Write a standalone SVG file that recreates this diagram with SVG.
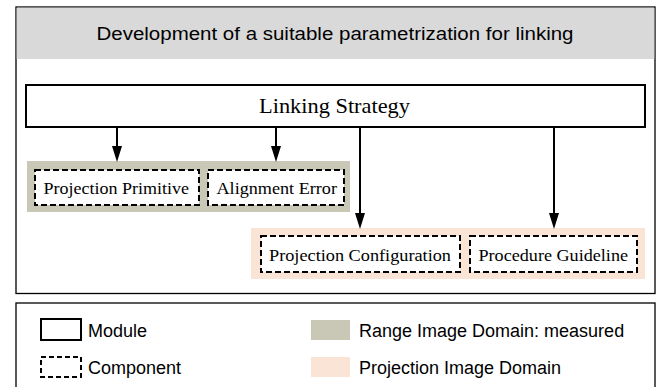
<svg xmlns="http://www.w3.org/2000/svg" width="657" height="387" viewBox="0 0 657 387">
<defs>
<marker id="ah" viewBox="0 0 16 10" refX="1" refY="5" markerUnits="userSpaceOnUse" markerWidth="16" markerHeight="10" orient="auto" overflow="visible">
<path d="M0,0 L16,5 L0,10 Z" fill="#000"/>
</marker>
<style>
.frame{fill:#fff;stroke:#000;stroke-width:1.3}
.module{fill:#fff;stroke:#000;stroke-width:2}
.comp{fill:#fff;stroke:#000;stroke-width:2;stroke-dasharray:6,3}
.range{fill:#c9c7b6}
.proj{fill:#f9e4d5}
.sans{font-family:"Liberation Sans",Arial,sans-serif;fill:#000}
.serif{font-family:"Liberation Serif","Times New Roman",serif;fill:#000}
.conn{stroke:#000;stroke-width:2;fill:none}
</style>
</defs>
<g id="main-frame">
<rect class="frame" x="16" y="7" width="639" height="286.5"/>
<rect x="16.7" y="7.7" width="637.6" height="51.3" fill="#d9d9d9"/>
<text class="sans" x="96.5" y="39.5" font-size="17.5" textLength="477" lengthAdjust="spacingAndGlyphs">Development of a suitable parametrization for linking</text>
</g>
<g id="range-domain"><rect class="range" x="27" y="161" width="323" height="51"/></g>
<g id="projection-domain"><rect class="proj" x="251" y="228" width="394" height="51"/></g>
<g id="linking-strategy">
<rect class="module" x="26" y="85" width="619" height="42"/>
<text class="serif" x="259" y="113" font-size="21" textLength="151" lengthAdjust="spacingAndGlyphs">Linking Strategy</text>
</g>
<g id="projection-primitive">
<rect class="comp" x="35" y="170" width="164" height="35"/>
<text class="serif" x="43.5" y="194" font-size="17.5" textLength="145.5" lengthAdjust="spacingAndGlyphs">Projection Primitive</text>
</g>
<g id="alignment-error">
<rect class="comp" x="208" y="170" width="136" height="35"/>
<text class="serif" x="216.5" y="194" font-size="17.5" textLength="120.5" lengthAdjust="spacingAndGlyphs">Alignment Error</text>
</g>
<g id="projection-configuration">
<rect class="comp" x="261" y="236" width="199" height="36"/>
<text class="serif" x="269" y="261" font-size="17.5" textLength="182" lengthAdjust="spacingAndGlyphs">Projection Configuration</text>
</g>
<g id="procedure-guideline">
<rect class="comp" x="470" y="236" width="167" height="36"/>
<text class="serif" x="478.5" y="261" font-size="17.5" textLength="149.5" lengthAdjust="spacingAndGlyphs">Procedure Guideline</text>
</g>
<g id="connectors">
<line class="conn" x1="117" y1="127" x2="117" y2="147" marker-end="url(#ah)"/>
<line class="conn" x1="276" y1="127" x2="276" y2="147" marker-end="url(#ah)"/>
<line class="conn" x1="360" y1="127" x2="360" y2="214" marker-end="url(#ah)"/>
<line class="conn" x1="554" y1="127" x2="554" y2="214" marker-end="url(#ah)"/>
</g>
<g id="legend">
<rect class="frame" x="16" y="303" width="639" height="100"/>
<rect class="module" x="41" y="319" width="40" height="21"/>
<text class="sans" x="88" y="337" font-size="18">Module</text>
<rect class="comp" x="41" y="357" width="40" height="20" style="stroke-dasharray:5,3"/>
<text class="sans" x="88" y="374" font-size="18">Component</text>
<rect class="range" x="311" y="320" width="39" height="20"/>
<text class="sans" x="359" y="337" font-size="18">Range Image Domain: measured</text>
<rect class="proj" x="311" y="357" width="39" height="20"/>
<text class="sans" x="359" y="374" font-size="18">Projection Image Domain</text>
</g>
</svg>
